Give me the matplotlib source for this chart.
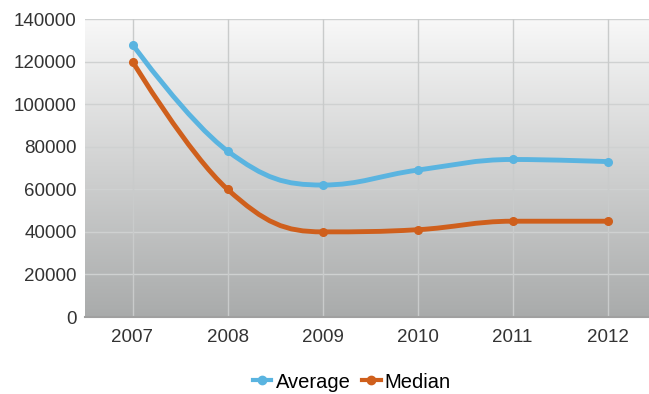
import numpy as np
import matplotlib
matplotlib.use("Agg")
import matplotlib.pyplot as plt
from matplotlib.path import Path
from matplotlib.patches import PathPatch
from matplotlib.lines import Line2D

years = ["2007", "2008", "2009", "2010", "2011", "2012"]
average = [128000, 78000, 62000, 69000, 74000, 73000]
median = [120000, 60000, 40000, 41000, 45000, 45000]
yticks = [0, 20000, 40000, 60000, 80000, 100000, 120000, 140000]

avg_color = "#5ab4e0"
med_color = "#cf5f1c"

plt.rcParams["font.family"] = ["Liberation Sans", "DejaVu Sans"]


def spline_path(xs, ys, smooth=1.5):
    """cubic bezier path through the points, same control rule as a chart spline"""
    n = len(xs)
    verts = [(xs[0], ys[0])]
    codes = [Path.MOVETO]
    ctrl = []
    for i in range(n):
        if i == 0 or i == n - 1:
            ctrl.append(None)
            continue
        px, py = xs[i], ys[i]
        lx, ly = xs[i - 1], ys[i - 1]
        nx, ny = xs[i + 1], ys[i + 1]
        d = smooth + 1
        lcx = (smooth * px + lx) / d
        lcy = (smooth * py + ly) / d
        rcx = (smooth * px + nx) / d
        rcy = (smooth * py + ny) / d
        corr = ((rcy - lcy) * (rcx - px)) / (rcx - lcx) + py - rcy
        lcy += corr
        rcy += corr
        if lcy > ly and lcy > py:
            lcy = max(ly, py)
            rcy = 2 * py - lcy
        elif lcy < ly and lcy < py:
            lcy = min(ly, py)
            rcy = 2 * py - lcy
        if rcy > ny and rcy > py:
            rcy = max(ny, py)
            lcy = 2 * py - rcy
        elif rcy < ny and rcy < py:
            rcy = min(ny, py)
            lcy = 2 * py - rcy
        ctrl.append(((lcx, lcy), (rcx, rcy)))
    for i in range(1, n):
        a = ctrl[i - 1][1] if ctrl[i - 1] else (xs[i - 1], ys[i - 1])
        b = ctrl[i][0] if ctrl[i] else (xs[i], ys[i])
        verts += [a, b, (xs[i], ys[i])]
        codes += [Path.CURVE4] * 3
    return Path(verts, codes)


fig = plt.figure(figsize=(6.49, 3.94), dpi=100)
ax = fig.add_axes([85 / 649, 1 - 317 / 394, 570 / 649, 298 / 394])

x = np.arange(len(years))
ax.set_xlim(-0.5, len(years) - 0.5)
ax.set_ylim(0, 140000)

# grey gradient behind the plot, light at the top
grad = np.linspace(0, 1, 256).reshape(-1, 1)
cmap = matplotlib.colors.LinearSegmentedColormap.from_list("bg", ["#f8f8f8", "#a9abab"])
ax.imshow(grad, aspect="auto", cmap=cmap, extent=[-0.5, len(years) - 0.5, 0, 140000],
          zorder=0, origin="upper")

for yt in yticks[1:]:
    ax.axhline(yt, color="#cfd1d1", lw=1, zorder=1)
for xi in x:
    ax.axvline(xi, color="#c9cbcb", lw=1, zorder=1)

for vals, col in [(average, avg_color), (median, med_color)]:
    p = spline_path(list(x.astype(float)), list(map(float, vals)))
    ax.add_patch(PathPatch(p, facecolor="none", edgecolor=col, lw=3.5,
                           capstyle="round", joinstyle="round", zorder=3))
    ax.plot(x, vals, "o", color=col, ms=5.5, zorder=4)

ax.set_xticks(x)
ax.set_xticklabels(years)
ax.set_yticks(yticks)
ax.tick_params(length=0, labelsize=13.5, labelcolor="#333333")
ax.tick_params(axis="x", pad=9)
ax.tick_params(axis="y", pad=6)
for s in ["top", "right", "left"]:
    ax.spines[s].set_visible(False)
ax.spines["bottom"].set_color("#a0a0a0")
ax.spines["bottom"].set_linewidth(1.5)

handles = [Line2D([], [], color=avg_color, lw=3, marker="o", ms=6),
           Line2D([], [], color=med_color, lw=3, marker="o", ms=6)]
fig.legend(handles, ["Average", "Median"], loc="center", bbox_to_anchor=(352 / 649, 1 - 382 / 394),
           ncol=2, frameon=False, fontsize=14.5, handlelength=0.9, handletextpad=0.2,
           columnspacing=0.6)

fig.savefig("out.png", dpi=100)
